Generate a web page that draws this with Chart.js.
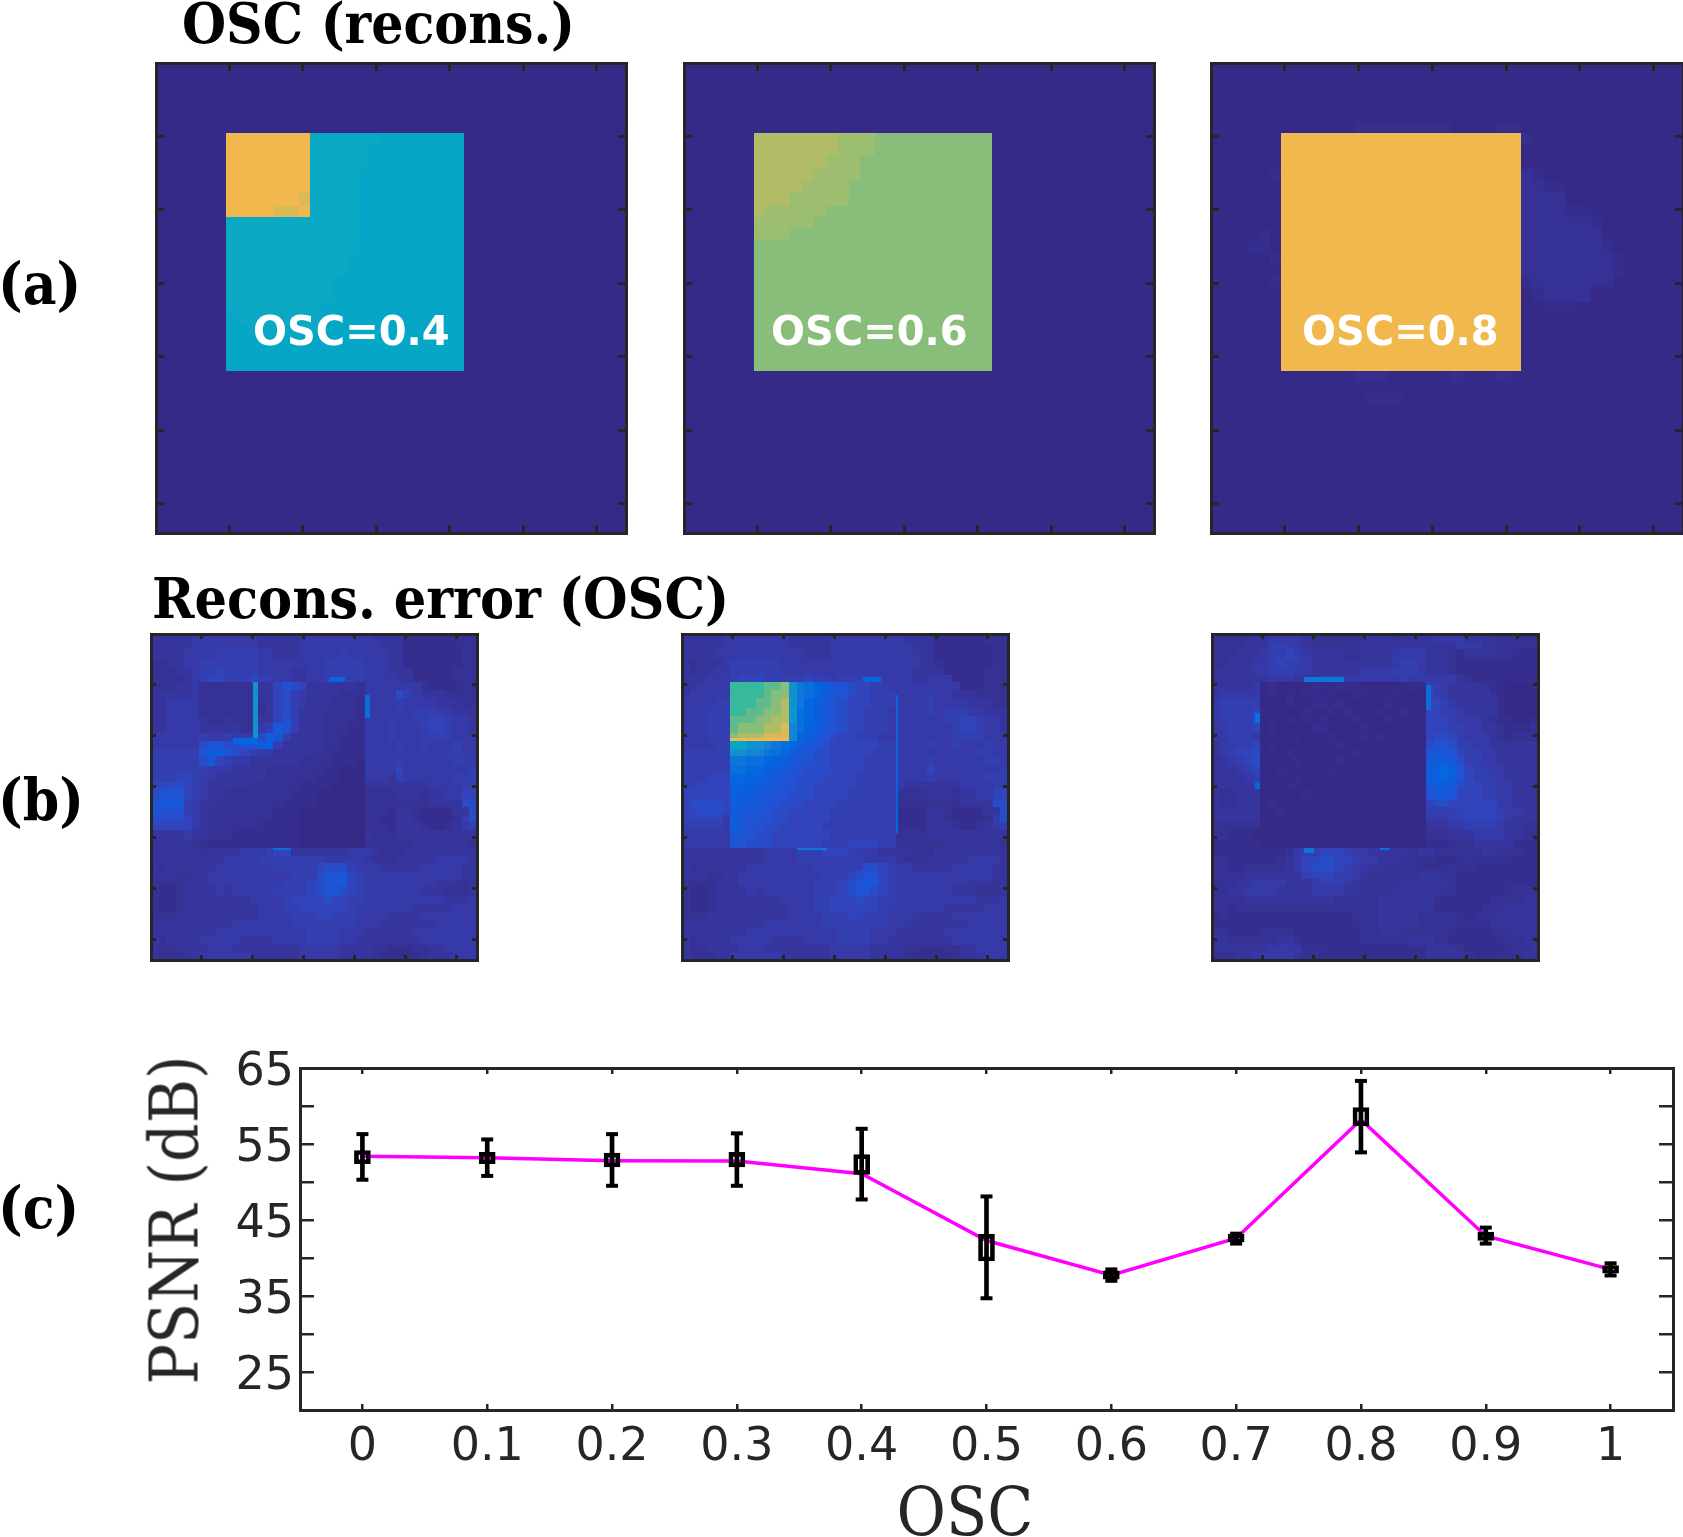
<!DOCTYPE html>
<html>
<head>
<meta charset="utf-8">
<title>OSC reconstruction</title>
<script src="https://cdn.jsdelivr.net/npm/chart.js@4/dist/chart.umd.min.js"></script>
<style>
    html, body { margin: 0; padding: 0; background: #fff; }
    #page { position: relative; width: 1683px; height: 1537px; overflow: hidden; background: #fff; }
    canvas { position: absolute; display: block; }
    .head { position: absolute; white-space: nowrap; font-family: "DejaVu Serif Condensed", "DejaVu Serif", serif; font-weight: bold; color: #000; line-height: 1; }
    .tag { position: absolute; white-space: nowrap; font-family: "DejaVu Sans", sans-serif; font-weight: bold; font-size: 40px; color: #fff; line-height: 1; }
    .axis-title { position: absolute; white-space: nowrap; font-family: "DejaVu Serif Condensed", "DejaVu Serif", serif; font-size: 67px; color: #262626; line-height: 1; }
</style>
</head>
<body>
<div id="page">
    <canvas id="a1"></canvas>
    <canvas id="a2"></canvas>
    <canvas id="a3"></canvas>
    <canvas id="b1"></canvas>
    <canvas id="b2"></canvas>
    <canvas id="b3"></canvas>
    <canvas id="psnrChart" width="1563" height="497" style="left:120px;top:1040px;width:1563px;height:497px"></canvas>

    <div class="head" style="left:182px;top:-5px;font-size:56.3px">OSC (recons.)</div>
    <div class="head" style="left:152px;top:570px;font-size:56.8px">Recons. error (OSC)</div>
    <div class="head" style="left:-2px;top:255px;font-size:58px">(a)</div>
    <div class="head" style="left:-2px;top:771px;font-size:58px">(b)</div>
    <div class="head" style="left:-2px;top:1179px;font-size:58px">(c)</div>

    <div class="tag" style="left:253px;top:311px">OSC=0.4</div>
    <div class="tag" style="left:771px;top:311px">OSC=0.6</div>
    <div class="tag" style="left:1302px;top:311px">OSC=0.8</div>

    <div class="axis-title" style="left:175px;top:1220px;transform:translate(-50%,-50%) rotate(-90deg)">PSNR (dB)</div>
    <div class="axis-title" style="left:965px;top:1512px;transform:translate(-50%,-50%)">OSC</div>
</div>

<script>
// PSNR panel (c)
const oscLabels = ["0", "0.1", "0.2", "0.3", "0.4", "0.5", "0.6", "0.7", "0.8", "0.9", "1"];
const psnrMean = [53.4, 53.2, 52.8, 52.75, 51.1, 42.3, 37.75, 42.6, 58.2, 42.9, 38.5];
const whiskerLow = [50.3, 50.8, 49.5, 49.5, 47.7, 34.7, 37.0, 41.9, 53.9, 41.9, 37.7];
const whiskerHigh = [56.3, 55.6, 56.3, 56.4, 57.0, 48.1, 38.5, 43.2, 63.3, 44.0, 39.3];
const boxLow = [52.4, 52.4, 52.0, 52.0, 51.0, 39.6, 37.2, 42.1, 57.4, 42.3, 38.0];
const boxHigh = [54.15, 53.9, 53.8, 53.9, 53.6, 43.1, 38.3, 43.1, 59.8, 43.4, 39.0];
const psnrTicks = [20, 25, 30, 35, 40, 45, 50, 55, 60, 65];
const psnrTickLabels = [25, 35, 45, 55, 65];

// image panels: pixel bounds of the 40 x 40 cells inside the 128 x 128 images
const cellEdges = [0, 3, 6, 10, 13, 16, 19, 22, 25, 29, 32, 35, 39, 42, 45, 48, 52, 55, 58, 61, 65, 68, 71, 74, 77, 81, 84,
    87, 90, 93, 96, 99, 103, 106, 109, 112, 115, 118, 122, 125, 128];

// one character per cell, looked up in levelValues
const levelChars = "0123456789abcdefghijklmnopqr";
const levelValues = [0, 0.01, 0.018, 0.028, 0.042, 0.052, 0.065, 0.08, 0.095, 0.105,
    0.115, 0.125, 0.14, 0.17, 0.2, 0.25, 0.3, 0.35, 0.375, 0.385, 0.45, 0.5, 0.56, 0.62, 0.68, 0.75, 0.8, 0.65];

const oscRows04 = [
    "0000000000 0000000000 0000000000 0000000000",
    "0000000000 0000000000 0000000000 0000000000",
    "0000000000 0000000000 0000000000 0000000000",
    "0000000000 0000000000 0000000000 0000000000",
    "0000000000 0000000000 0000000000 0000000000",
    "0000000000 0000000000 0000000000 0000000000",
    "000000qqqq qqqjjjjjji iiiiii0000 0000000000",
    "000000qqqq qqqjjjjjii iiiiii0000 0000000000",
    "000000qqqq qqqjjjjjii iiiiii0000 0000000000",
    "000000qqqq qqqjjjjiii iiiiii0000 0000000000",
    "000000qqqq qqqjjjjiii iiiiii0000 0000000000",
    "000000qqqq qqpjjjjiii iiiiii0000 0000000000",
    "000000qqqq ppqjjjjiii iiiiii0000 0000000000",
    "000000jjjj jjjjjjjiii iiiiii0000 0000000000",
    "000000jjjj jjjjjjjiii iiiiii0000 0000000000",
    "000000jjjj jjjjjjjiii iiiiii0000 0000000000",
    "000000jjjj jjjjjjiiii iiiiii0000 0000000000",
    "000000jjjj jjjjjjiiii iiiiii0000 0000000000",
    "000000jjjj jjjjjiiiii iiiiii0000 0000000000",
    "000000jjjj jjjjjiiiii iiiiii0000 0000000000",
    "000000jjjj jjjjiiiiii iiiiii0000 0000000000",
    "000000ijjj jjjjiiiiii iiiiii0000 0000000000",
    "000000iijj jjjjiiiiii iiiiii0000 0000000000",
    "000000iiii iiiiiiiiii iiiiii0000 0000000000",
    "000000iiii iiiiiiiiii iiiiii0000 0000000000",
    "000000iiii iiiiiiiiii iiiiii0000 0000000000",
    "0000000000 0000000000 0000000000 0000000000",
    "0000000000 0000000000 0000000000 0000000000",
    "0000000000 0000000000 0000000000 0000000000",
    "0000000000 0000000000 0000000000 0000000000",
    "0000000000 0000000000 0000000000 0000000000",
    "0000000000 0000000000 0000000000 0000000000",
    "0000000000 0000000000 0000000000 0000000000",
    "0000000000 0000000000 0000000000 0000000000",
    "0000000000 0000000000 0000000000 0000000000",
    "0000000000 0000000000 0000000000 0000000000",
    "0000000000 0000000000 0000000000 0000000000",
    "0000000000 0000000000 0000000000 0000000000",
    "0000000000 0000000000 0000000000 0000000000",
    "0000000000 0000000000 0000000000 0000000000"
];

const oscRows06 = [
    "0000000000 0000000000 0000000000 0000000000",
    "0000000000 0000000000 0000000000 0000000000",
    "0000000000 0000000000 0000000000 0000000000",
    "0000000000 0000000000 0000000000 0000000000",
    "0000000000 0000000000 0000000000 0000000000",
    "0000000000 0000000000 0000000000 0000000000",
    "000000oooo ooorrrnnnn nnnnnn0000 0000000000",
    "000000oooo ooorrrnnnn nnnnnn0000 0000000000",
    "000000oooo oorrrnnnnn nnnnnn0000 0000000000",
    "000000oooo orrrrnnnnn nnnnnn0000 0000000000",
    "000000oooo rrrrnnnnnn nnnnnn0000 0000000000",
    "000000ooor rrrrnnnnnn nnnnnn0000 0000000000",
    "000000orrr rrnnnnnnnn nnnnnn0000 0000000000",
    "000000rrrr rnnnnnnnnn nnnnnn0000 0000000000",
    "000000rrrn nnnnnnnnnn nnnnnn0000 0000000000",
    "000000nnnn nnnnnnnnnn nnnnnn0000 0000000000",
    "000000nnnn nnnnnnnnnn nnnnnn0000 0000000000",
    "000000nnnn nnnnnnnnnn nnnnnn0000 0000000000",
    "000000nnnn nnnnnnnnnn nnnnnn0000 0000000000",
    "000000nnnn nnnnnnnnnn nnnnnn0000 0000000000",
    "000000nnnn nnnnnnnnnn nnnnnn0000 0000000000",
    "000000nnnn nnnnnnnnnn nnnnnn0000 0000000000",
    "000000nnnn nnnnnnnnnn nnnnnn0000 0000000000",
    "000000nnnn nnnnnnnnnn nnnnnn0000 0000000000",
    "000000nnnn nnnnnnnnnn nnnnnn0000 0000000000",
    "000000nnnn nnnnnnnnnn nnnnnn0000 0000000000",
    "0000000000 0000000000 0000000000 0000000000",
    "0000000000 0000000000 0000000000 0000000000",
    "0000000000 0000000000 0000000000 0000000000",
    "0000000000 0000000000 0000000000 0000000000",
    "0000000000 0000000000 0000000000 0000000000",
    "0000000000 0000000000 0000000000 0000000000",
    "0000000000 0000000000 0000000000 0000000000",
    "0000000000 0000000000 0000000000 0000000000",
    "0000000000 0000000000 0000000000 0000000000",
    "0000000000 0000000000 0000000000 0000000000",
    "0000000000 0000000000 0000000000 0000000000",
    "0000000000 0000000000 0000000000 0000000000",
    "0000000000 0000000000 0000000000 0000000000",
    "0000000000 0000000000 0000000000 0000000000"
];

const oscRows08 = [
    "0000000000 0000000000 0000000000 0000000000",
    "0000000000 0000000000 0000000000 0000000000",
    "0000000000 0000000000 0000000000 0000000000",
    "0000000000 0000000000 0000000000 0000000000",
    "0000000000 0000000000 0000000000 0000000000",
    "0000000000 0011111111 0000110000 0000000000",
    "000000qqqq qqqqqqqqqq qqqqqq1000 0000000000",
    "000000qqqq qqqqqqqqqq qqqqqq0000 0000000000",
    "000000qqqq qqqqqqqqqq qqqqqq0000 0000000000",
    "000001qqqq qqqqqqqqqq qqqqqq2100 0000000000",
    "000000qqqq qqqqqqqqqq qqqqqq2211 0000000000",
    "000000qqqq qqqqqqqqqq qqqqqq2222 0000000000",
    "000000qqqq qqqqqqqqqq qqqqqq2222 1100000000",
    "000000qqqq qqqqqqqqqq qqqqqq2222 2210000000",
    "000010qqqq qqqqqqqqqq qqqqqq2222 2220000000",
    "000110qqqq qqqqqqqqqq qqqqqq2222 2221000000",
    "000001qqqq qqqqqqqqqq qqqqqq2222 2222100000",
    "000000qqqq qqqqqqqqqq qqqqqq2222 2222100000",
    "000001qqqq qqqqqqqqqq qqqqqq1222 2222000000",
    "000000qqqq qqqqqqqqqq qqqqqq0122 2200000000",
    "000000qqqq qqqqqqqqqq qqqqqq0011 1000000000",
    "000000qqqq qqqqqqqqqq qqqqqq0000 0000000000",
    "000000qqqq qqqqqqqqqq qqqqqq0000 0000000000",
    "000000qqqq qqqqqqqqqq qqqqqq0000 0000000000",
    "000000qqqq qqqqqqqqqq qqqqqq0000 0000000000",
    "000000qqqq qqqqqqqqqq qqqqqq0000 0000000000",
    "0000000000 0011100000 1000100000 0000000000",
    "0000000000 0000000000 0000000000 0000000000",
    "0000000000 0001110000 0000000000 0000000000",
    "0000000000 0000000000 0000000000 0000000000",
    "0000000000 0000000000 0000000000 0000000000",
    "0000000000 0000000000 0000000000 0000000000",
    "0000000000 0000000000 0000000000 0000000000",
    "0000000000 0000000000 0000000000 0000000000",
    "0000000000 0000000000 0000000000 0000000000",
    "0000000000 0000000000 0000000000 0000000000",
    "0000000000 0000000000 0000000000 0000000000",
    "0000000000 0000000000 0000000000 0000000000",
    "0000000000 0000000000 0000000000 0000000000",
    "0000000000 0000000000 0000000000 0000000000"
];

const errorRows04 = [
    "3333344444 4443333334 4444444333 3111111222",
    "3333344444 4443333344 4444444433 3111111122",
    "3333444455 5554433344 4445444443 3111111122",
    "2233445555 5554444444 4555554443 3111111122",
    "2223345565 5554444334 4555554443 3311111222",
    "2222345665 5565544334 4555554444 3311111222",
    "2223342222 2223368763 3333324444 4442111122",
    "3333342222 2223367543 3332224444 7543332222",
    "3344442222 2222367543 3322214444 5444433322",
    "3344442222 2222367533 3222214444 5455544333",
    "3344443223 2223368533 3222214444 4455665443",
    "3344443333 3224598533 3222114445 4445665443",
    "4444445445 4457a95333 3221114445 4445555444",
    "4444447887 788ab53333 3221114444 5445444544",
    "5555558aa8 7654433333 2211114444 4444445544",
    "5555557965 4433333322 2211104444 5444444554",
    "5555555444 3333222222 2110004444 6444444445",
    "5556654433 3333222222 1110004443 5444444555",
    "6677654333 3322222211 1100003333 3333444455",
    "7888654332 2222222111 0000002222 3332334466",
    "8999543322 2222221111 0000002222 2222333377",
    "8888543222 2222211100 0000002221 3321111337",
    "7777643222 2222211100 0000002211 3321111257",
    "6666643222 2221111100 0000002221 3332112345",
    "3333433222 1111111100 0000003222 3333333333",
    "3333322111 1111111100 0000002222 2233333332",
    "3333332333 3444566333 3333444322 2333333333",
    "3333333334 4445555555 5444443222 3333344443",
    "3233333344 4444455555 6777544433 3334444433",
    "3332233444 4444444555 7889654444 4444444433",
    "2222333444 4444445556 7899654444 4444433323",
    "2112333343 4444455556 7887654444 4443332223",
    "2112333333 3344445666 6766554444 4444443334",
    "2112333333 3334445566 6666544444 4433333444",
    "2223333333 3334444555 6655544443 3334444444",
    "3333333333 4444444555 5555544433 3333344444",
    "3333333344 4444444445 5554443333 3344444444",
    "3233334444 4333344445 5554433333 3334444444",
    "3223333444 3333333344 4443333221 1122334444",
    "3222334444 4433333344 4443333211 1112333444"
];

const errorRows06 = [
    "3333344444 4443333344 4444444333 3111111222",
    "3333344444 4443333344 4444444433 3111111122",
    "3333444444 4444433344 4444444443 3111111122",
    "3233345555 5544444444 4444444443 3211111122",
    "3233445555 5544444444 4444444433 3311111222",
    "3334445666 5555565545 5554444433 4441111222",
    "334444llll mmngedba98 7665544444 4444111222",
    "344444llll mnngedca98 7665554444 5443332222",
    "444455lllm mnogeca987 6665554444 5444433322",
    "444555llmm nnogdca987 6655544444 5455544333",
    "444555mmmn noogdca987 6655544444 4455665443",
    "444555mnnn oopfdba987 6655544444 4445665443",
    "444555nooo pppfca9876 6555444444 4445555444",
    "444455iigg fedca98766 6666554444 5445444544",
    "555555ggff edca987766 6665554444 4444445544",
    "555555eedd cba9887766 6655554444 5444444554",
    "555555ddcc ba98877766 6655554444 6444444445",
    "555666ccbb a988777666 6555554444 5444444555",
    "556666bbaa 9988776666 6555554333 3333444455",
    "666666aaa9 9887776666 5555552222 3332334466",
    "677776aa99 8877766665 5555552222 2222333377",
    "667776a998 8776666655 5555551111 3321111337",
    "666664a988 8776666655 5555551111 3321111257",
    "555554a988 7766666555 5555551111 3332112345",
    "4444449887 7666666655 5555552222 3333333333",
    "4444448877 7666666555 6666552222 2233333332",
    "3333333333 4444555666 5444333322 2333333333",
    "3333333333 4444555555 5544443222 3333344443",
    "3233333344 4444445555 5577654433 3334444433",
    "3332233444 4444444555 6788654444 4444444433",
    "2222333444 4444445556 7899654444 4444433323",
    "2112333343 4444445556 7887654444 4443332223",
    "2112333333 3344445566 6766554444 4444443334",
    "2112333333 3334445566 6666544444 4433333444",
    "2223333333 3334444555 6655544443 3334444444",
    "3333333333 4444444555 5555544433 3333344444",
    "3333333344 4444444445 5554443333 3344444444",
    "3233334444 4333344445 5554433333 3334444444",
    "3223333444 3333333344 4443333221 1122334444",
    "3222334444 4433333344 4443333211 1112333444"
];

const errorRows08 = [
    "2222233444 4322222223 3323333444 4333222222",
    "2222333555 4322222233 3333333333 4443322222",
    "2223334556 5433332233 3344443332 1333322111",
    "2233344565 5433333333 3345543332 1111111111",
    "3333344555 4433333344 4455543332 1111111111",
    "3333333444 3334444444 4445444444 3211111111",
    "3333340100 0011011100 0000105543 3332110001",
    "3444440101 0110100110 0010006543 3333210000",
    "4555550001 0011010000 0100006654 3333310000",
    "4555560100 0100101000 1001006655 4333310000",
    "4555570001 0101000100 0100006665 4443211001",
    "4455560100 0011000010 0000006665 5443321112",
    "4455540000 1000100010 1000006776 5444321222",
    "3445560100 0000010000 0000007887 5544333333",
    "3456670001 0000000100 0000008988 6554433333",
    "3345670000 1000010000 0000009aa9 7554433333",
    "3334560010 0000100000 000000abca 8655443333",
    "3333450000 1000000000 000000abca 8655543333",
    "3333340001 0000000000 0000009aa9 7665544333",
    "3223330000 0100000000 0000008998 6665544333",
    "3223330100 0000000000 0000006776 6666644333",
    "3333330010 0000000000 0000005555 6666654433",
    "3333330000 0000000000 0000004445 5666654333",
    "2222220000 0000000000 0000003334 4555543322",
    "2211100000 0000000000 0000002223 3344443322",
    "1111110000 0000000000 0000001112 2233333111",
    "1111111112 4556665443 3333233222 2223322211",
    "2211111123 4667766544 3332222111 2222222111",
    "2211222223 4677765443 3222211122 2211111111",
    "2222333333 3566655432 2222233322 1111111111",
    "2223344443 3345554322 2223333332 1111111111",
    "2233444433 3344443322 2233333322 1111112222",
    "2222333333 3333322222 3333333211 1111222233",
    "2212222222 2222222222 3333333111 1112223333",
    "1211111111 1111111222 3333322222 1122233333",
    "1111111111 1111111222 3333322222 2222333333",
    "2211112222 1111111122 3332222222 1111222333",
    "3322222233 2111111122 2222333221 1111122233",
    "3333333444 4222111111 1111113333 2111112223",
    "2223344444 3221111111 1111113333 3211122233"
];

// thin bright edges around the square: x from, x to, y from, y to, level
const errorEdges04 = [[40, 42, 19, 41, "g"], [32, 42, 41, 43, "c"], [70, 76, 17, 19, "c"], [48, 55, 84, 85, "d"], [84, 86, 24, 33, "d"]];
const errorEdges06 = [[71, 78, 17, 19, "c"], [45, 57, 84, 85, "e"], [84, 85, 24, 78, "c"], [19, 42, 41, 42, "q"]];
const errorEdges08 = [[36, 52, 17, 19, "e"], [36, 40, 84, 86, "e"], [66, 70, 84, 85, "d"], [17, 19, 31, 35, "d"], [17, 19, 58, 61, "c"], [84, 86, 20, 30, "d"]];

// parula colormap
const colorStops = [[0, "#352a87"], [0.032, "#3636a0"], [0.063, "#3243ba"], [0.095, "#2053d4"], [0.127, "#0363e1"],
    [0.25, "#1485d4"], [0.375, "#06a7c6"], [0.5, "#38b99e"], [0.625, "#8cbe78"], [0.7, "#c0bb60"], [0.8, "#f1b94d"], [1, "#f9fb0e"]];

const axisColor = "#262626";

function hexToRgb(hex) {
    return [1, 3, 5].map(i => parseInt(hex.substr(i, 2), 16));
}

function levelColor(ch) {
    const value = levelValues[levelChars.indexOf(ch)];
    let i = 0;
    while (i < colorStops.length - 2 && value > colorStops[i + 1][0]) i++;
    const t = (value - colorStops[i][0]) / (colorStops[i + 1][0] - colorStops[i][0]);
    const a = hexToRgb(colorStops[i][1]);
    const b = hexToRgb(colorStops[i + 1][1]);
    const mix = a.map((v, k) => Math.round(v + (b[k] - v) * t));
    return `rgb(${mix[0]},${mix[1]},${mix[2]})`;
}

// Chart.js has no cell element, so the cells are painted through the chart scales
const imageCellsPlugin = {
    id: "imageCells",
    beforeDatasetsDraw(chart) {
        const ctx = chart.ctx;
        const xs = chart.scales.x;
        const ys = chart.scales.y;
        chart.data.datasets[0].cells.forEach(cell => {
            const left = Math.round(xs.getPixelForValue(cell.x0));
            const right = Math.round(xs.getPixelForValue(cell.x1));
            const top = Math.round(ys.getPixelForValue(cell.y0));
            const bottom = Math.round(ys.getPixelForValue(cell.y1));
            ctx.fillStyle = cell.color;
            ctx.fillRect(left, top, Math.max(right - left, 1), Math.max(bottom - top, 1));
        });
    }
};

function buildCells(rows, edges) {
    const cells = [];
    rows.forEach((row, r) => {
        row.replace(/ /g, "").split("").forEach((ch, c) => {
            cells.push({ x0: cellEdges[c], x1: cellEdges[c + 1], y0: cellEdges[r], y1: cellEdges[r + 1], color: levelColor(ch) });
        });
    });
    (edges || []).forEach(e => {
        cells.push({ x0: e[0], x1: e[1], y0: e[2], y1: e[3], color: levelColor(e[4]) });
    });
    return cells;
}

function imageAxis(axis, position, tickLength, reverse) {
    return {
        type: "linear",
        axis,
        position,
        min: 0,
        max: 128,
        reverse,
        afterFit: scale => {
            if (axis === "x") scale.height = 0;
            else scale.width = 0;
        },
        ticks: { display: false, stepSize: 20, includeBounds: false },
        grid: { drawOnChartArea: false, tickLength: -tickLength, color: axisColor, lineWidth: 3, z: 1 },
        border: { color: axisColor, width: 3, z: 1 }
    };
}

function imagePanel(id, box, rows, edges, tickLength) {
    const canvas = document.getElementById(id);
    const margin = 4;
    canvas.width = box[2] + margin * 2;
    canvas.height = box[3] + margin * 2;
    canvas.style.left = (box[0] - margin) + "px";
    canvas.style.top = (box[1] - margin) + "px";
    canvas.style.width = canvas.width + "px";
    canvas.style.height = canvas.height + "px";
    return new Chart(canvas.getContext("2d"), {
        type: "scatter",
        data: { datasets: [{ data: [], cells: buildCells(rows, edges) }] },
        plugins: [imageCellsPlugin],
        options: {
            responsive: false,
            animation: false,
            layout: { padding: margin },
            plugins: { legend: { display: false }, tooltip: { enabled: false } },
            scales: {
                x: imageAxis("x", "bottom", tickLength, false),
                x2: imageAxis("x", "top", tickLength, false),
                y: imageAxis("y", "left", tickLength, true),
                y2: imageAxis("y", "right", tickLength, true)
            }
        }
    });
}

imagePanel("a1", [156, 63, 470, 470], oscRows04, null, 8);
imagePanel("a2", [684, 63, 470, 470], oscRows06, null, 8);
imagePanel("a3", [1211, 63, 472, 470], oscRows08, null, 8);
imagePanel("b1", [151, 634, 326, 326], errorRows04, errorEdges04, 5);
imagePanel("b2", [682, 634, 326, 326], errorRows06, errorEdges06, 5);
imagePanel("b3", [1212, 634, 326, 326], errorRows08, errorEdges08, 5);

function setPsnrTicks(scale) {
    scale.ticks = psnrTicks.map(v => ({ value: v }));
}

new Chart(document.getElementById("psnrChart").getContext("2d"), {
    type: "line",
    data: {
        labels: oscLabels,
        datasets: [
            { type: "line", data: whiskerHigh, order: 1, showLine: false, pointStyle: "line", pointRadius: 6, pointBorderWidth: 4, pointBorderColor: "#000" },
            { type: "line", data: whiskerLow, order: 1, showLine: false, pointStyle: "line", pointRadius: 6, pointBorderWidth: 4, pointBorderColor: "#000" },
            { type: "bar", data: whiskerLow.map((v, i) => [v, whiskerHigh[i]]), order: 2, grouped: false, barThickness: 4, backgroundColor: "#000" },
            { type: "bar", data: boxLow.map((v, i) => [v, boxHigh[i]]), order: 2, grouped: false, barThickness: 16, backgroundColor: "rgba(0,0,0,0)", borderColor: "#000", borderWidth: 4, borderSkipped: false },
            { type: "line", data: psnrMean, order: 3, borderColor: "#ff00ff", borderWidth: 3.5, tension: 0, pointRadius: 0, fill: false }
        ]
    },
    options: {
        responsive: false,
        animation: false,
        layout: { padding: { top: 28, right: 9, left: 0, bottom: 0 } },
        plugins: { legend: { display: false }, tooltip: { enabled: false } },
        scales: {
            x: {
                type: "category",
                offset: true,
                afterFit: scale => { scale.height = 127; scale.paddingLeft = 0; scale.paddingRight = 0; },
                ticks: { color: axisColor, padding: 16, autoSkip: false, maxRotation: 0, font: { family: "'DejaVu Sans', sans-serif", size: 46 } },
                grid: { drawOnChartArea: false, offset: false, tickLength: -6, color: axisColor, lineWidth: 2.5, z: 1 },
                border: { color: axisColor, width: 3, z: 1 }
            },
            x2: {
                type: "category",
                position: "top",
                labels: oscLabels,
                offset: true,
                afterFit: scale => { scale.height = 0; scale.paddingLeft = 0; scale.paddingRight = 0; },
                ticks: { display: false },
                grid: { drawOnChartArea: false, offset: false, tickLength: -6, color: axisColor, lineWidth: 2.5, z: 1 },
                border: { color: axisColor, width: 3, z: 1 }
            },
            y: {
                type: "linear",
                min: 20,
                max: 65,
                afterBuildTicks: setPsnrTicks,
                afterFit: scale => { scale.width = 180; scale.paddingTop = 0; scale.paddingBottom = 0; },
                ticks: {
                    color: axisColor,
                    padding: 20,
                    autoSkip: false,
                    // blank first line nudges the label down to where the reference has it
                    font: { family: "'DejaVu Sans', sans-serif", size: 46, lineHeight: 0.2 },
                    callback: v => (psnrTickLabels.includes(v) ? ["", String(v)] : "")
                },
                grid: { drawOnChartArea: false, tickLength: -14, color: axisColor, lineWidth: 2.5, z: 1 },
                border: { color: axisColor, width: 3, z: 1 }
            },
            y2: {
                type: "linear",
                position: "right",
                min: 20,
                max: 65,
                afterBuildTicks: setPsnrTicks,
                afterFit: scale => { scale.width = 0; scale.paddingTop = 0; scale.paddingBottom = 0; },
                ticks: { display: false },
                grid: { drawOnChartArea: false, tickLength: -14, color: axisColor, lineWidth: 2.5, z: 1 },
                border: { color: axisColor, width: 3, z: 1 }
            }
        }
    }
});
</script>
</body>
</html>
